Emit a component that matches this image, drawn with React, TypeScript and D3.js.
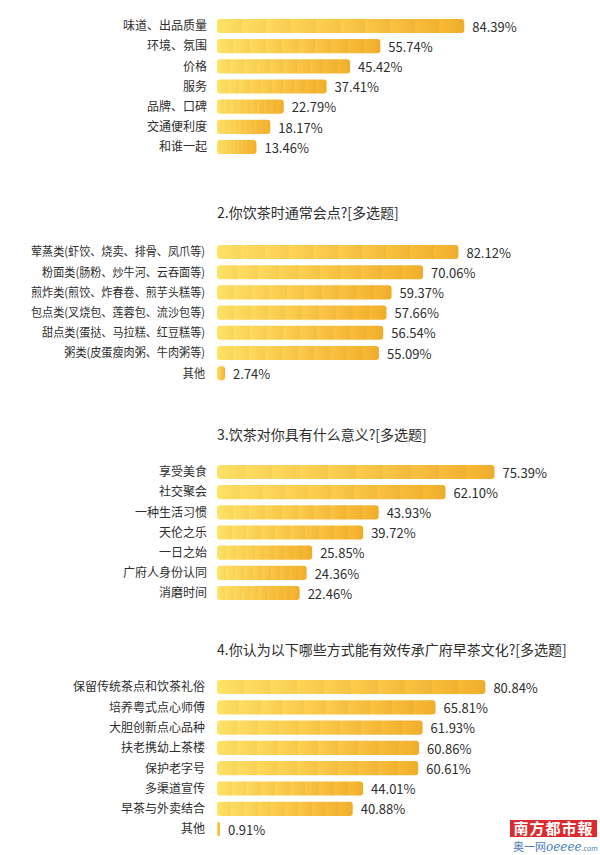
import React from "react";
import * as d3 from "d3";

const cats1 = ["味道、出品质量", "环境、氛围", "价格", "服务", "品牌、口碑", "交通便利度", "和谁一起"];
const vals1 = [84.39, 55.74, 45.42, 37.41, 22.79, 18.17, 13.46];

const title2 = "2.你饮茶时通常会点?[多选题]";
const cats2 = [
  "荤蒸类(虾饺、烧卖、排骨、凤爪等)",
  "粉面类(肠粉、炒牛河、云吞面等)",
  "煎炸类(煎饺、炸春卷、煎芋头糕等)",
  "包点类(叉烧包、莲蓉包、流沙包等)",
  "甜点类(蛋挞、马拉糕、红豆糕等)",
  "粥类(皮蛋瘦肉粥、牛肉粥等)",
  "其他",
];
const vals2 = [82.12, 70.06, 59.37, 57.66, 56.54, 55.09, 2.74];

const title3 = "3.饮茶对你具有什么意义?[多选题]";
const cats3 = ["享受美食", "社交聚会", "一种生活习惯", "天伦之乐", "一日之始", "广府人身份认同", "消磨时间"];
const vals3 = [75.39, 62.1, 43.93, 39.72, 25.85, 24.36, 22.46];

const title4 = "4.你认为以下哪些方式能有效传承广府早茶文化?[多选题]";
const cats4 = [
  "保留传统茶点和饮茶礼俗",
  "培养粤式点心师傅",
  "大胆创新点心品种",
  "扶老携幼上茶楼",
  "保护老字号",
  "多渠道宣传",
  "早茶与外卖结合",
  "其他",
];
const vals4 = [80.84, 65.81, 61.93, 60.86, 60.61, 44.01, 40.88, 0.91];

const FONT = "'Noto Sans CJK SC', 'Noto Sans', sans-serif";
const TEXT = "#2e2e2e";

type SectionProps = {
  cats: string[];
  vals: number[];
  title?: string;
  titleY: number;
  firstCenter: number;
  pitch: number;
  barX: number;
  fullWidth: number;
  labelRight: number;
  condense?: number;
};

function Section(p: SectionProps) {
  const y = d3
    .scaleBand<string>()
    .domain(p.cats)
    .range([p.firstCenter - p.pitch / 2, p.firstCenter - p.pitch / 2 + p.cats.length * p.pitch])
    .paddingInner(0.3)
    .paddingOuter(0.15);
  const x = d3.scaleLinear().domain([0, 100]).range([p.barX, p.barX + p.fullWidth]);
  const bw = y.bandwidth();
  return (
    <g>
      {p.title && (
        <text x={p.barX} y={p.titleY} dy="0.35em" fontSize={14} fill={TEXT} fontFamily={FONT}>
          {p.title}
        </text>
      )}
      {p.cats.map((c, i) => {
        const yy = y(c)!;
        const w = Math.max(2.5, x(p.vals[i]) - p.barX);
        const cy = yy + bw / 2;
        return (
          <g key={c}>
            <text
              x={p.labelRight}
              y={cy}
              dy="0.36em"
              textAnchor="end"
              fontSize={12}
              fill={TEXT}
              fontFamily={FONT}
              ref={(el) => {
                if (el && p.condense) {
                  el.removeAttribute("textLength");
                  const L = el.getComputedTextLength();
                  el.setAttribute("textLength", String(L * p.condense));
                  el.setAttribute("lengthAdjust", "spacingAndGlyphs");
                }
              }}
            >
              {c}
            </text>
            <rect x={p.barX} y={yy} width={w} height={bw} rx={Math.min(3, w / 2)} fill="url(#barGrad)" />
            <text x={p.barX + w + 8} y={cy + 1} dy="0.36em" fontSize={13} fill={TEXT} fontFamily={FONT}>
              {p.vals[i].toFixed(2)}%
            </text>
          </g>
        );
      })}
    </g>
  );
}

export default function App() {
  const nb = 10;
  const ci = d3.interpolateRgb("#F9DA62", "#EEAC2C");
  const stops: { off: number; color: string }[] = [];
  for (let i = 0; i < nb; i++) {
    const a = i / nb;
    const b = (i + 1) / nb;
    stops.push({ off: a, color: d3.color(ci(a))!.brighter(0.12).formatHex() });
    stops.push({ off: b - 0.001, color: ci(b) });
  }
  return (
    <div style={{ position: "absolute", left: 0, top: 0 }}>
      <svg width={600} height={855} style={{ display: "block", background: "#ffffff" }}>
        <defs>
          <linearGradient id="barGrad" x1="0" x2="1" y1="0" y2="0">
            {stops.map((s, i) => (
              <stop key={i} offset={s.off} stopColor={s.color} />
            ))}
          </linearGradient>
        </defs>
        <rect width={600} height={855} fill="#ffffff" />
        <Section cats={cats1} vals={vals1} titleY={0} firstCenter={26} pitch={20.17} barX={217} fullWidth={293} labelRight={207} />
        <Section
          cats={cats2}
          vals={vals2}
          title={title2}
          titleY={213}
          firstCenter={252}
          pitch={20.2}
          barX={217}
          fullWidth={294}
          labelRight={205}
          condense={0.925}
        />
        <Section cats={cats3} vals={vals3} title={title3} titleY={435} firstCenter={472} pitch={20.17} barX={217} fullWidth={368} labelRight={207} />
        <Section cats={cats4} vals={vals4} title={title4} titleY={650} firstCenter={687} pitch={20.3} barX={217} fullWidth={332} labelRight={205} />
        <g>
          <rect x={510} y={820} width={87} height={17} fill="#DD2A2F" />
          <text x={553.5} y={828.5} dy="0.36em" textAnchor="middle" fontSize={15} fontWeight="bold" fill="#ffffff" fontFamily={FONT} letterSpacing={1}>
            南方都市報
          </text>
          <text x={513} y={847} dy="0.36em" fontSize={11} fill="#4A80B8" fontFamily={FONT}>
            奥一网
            <tspan fontStyle="italic" fontFamily="'DejaVu Serif', serif" fontSize={12}>oeeee</tspan>
            <tspan fontSize={7}>.com</tspan>
          </text>
        </g>
      </svg>
    </div>
  );
}
